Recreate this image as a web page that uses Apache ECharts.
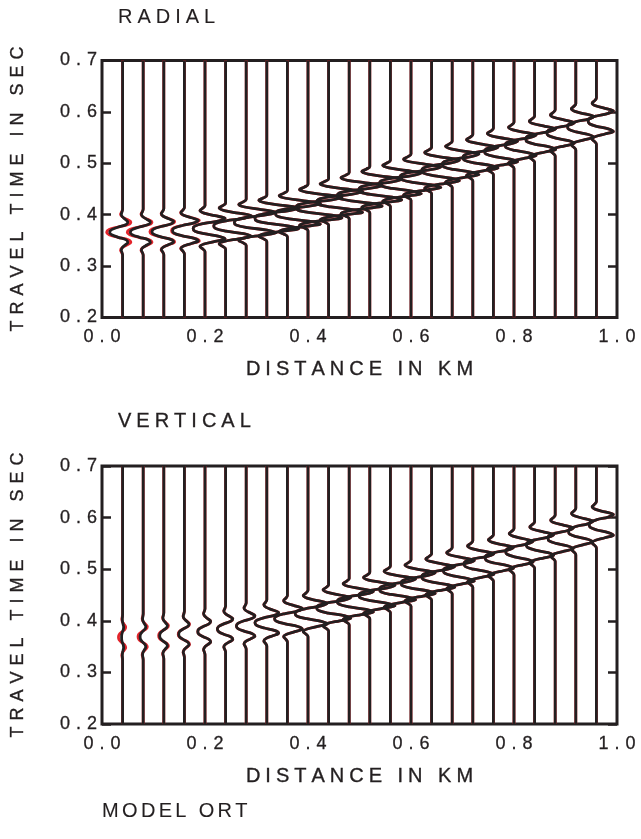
<!DOCTYPE html>
<html>
<head>
<meta charset="utf-8">
<script src="https://cdn.jsdelivr.net/npm/echarts@6/dist/echarts.min.js"></script>
<style>
  html, body { margin: 0; padding: 0; background: #fff; }
  #chart { width: 641px; height: 839px; }
</style>
</head>
<body>
<div id="chart"></div>
<script>
// trace positions (km)
var distances = [0.04, 0.08, 0.12, 0.16, 0.20, 0.24, 0.28, 0.32, 0.36, 0.40, 0.44, 0.48,
                 0.52, 0.56, 0.60, 0.64, 0.68, 0.72, 0.76, 0.80, 0.84, 0.88, 0.92, 0.96];

// arrival time of wavelet centre on each trace (s)
var radialTimes = [0.366, 0.366, 0.367, 0.369, 0.373, 0.378, 0.385, 0.393, 0.402, 0.414, 0.425, 0.437,
                   0.449, 0.461, 0.473, 0.486, 0.498, 0.511, 0.523, 0.535, 0.547, 0.559, 0.571, 0.582];
var verticalTimes = [0.368, 0.369, 0.371, 0.374, 0.379, 0.384, 0.390, 0.396, 0.404, 0.414, 0.425, 0.437,
                     0.449, 0.461, 0.473, 0.485, 0.497, 0.510, 0.522, 0.534, 0.547, 0.560, 0.573, 0.586];

// side lobe (to the right) and centre trough (to the left) amplitudes, km
var radialPeakBlack = [0.010, 0.014, 0.019, 0.027, 0.039, 0.050, 0.058, 0.062, 0.064, 0.066, 0.066, 0.064,
                       0.062, 0.060, 0.058, 0.054, 0.052, 0.049, 0.047, 0.043, 0.041, 0.037, 0.035, 0.033];
var radialTroughBlack = [0.025, 0.025, 0.023, 0.023, 0.023, 0.023, 0.023, 0.023, 0.023, 0.023, 0.023, 0.023,
                         0.021, 0.021, 0.021, 0.019, 0.019, 0.019, 0.017, 0.017, 0.017, 0.016, 0.016, 0.016];
var radialPeakRed = [0.016, 0.017, 0.021, 0.029, 0.039, 0.050, 0.058, 0.062, 0.064, 0.066, 0.066, 0.064,
                     0.062, 0.060, 0.058, 0.054, 0.052, 0.049, 0.047, 0.043, 0.041, 0.037, 0.035, 0.033];
var radialTroughRed = [0.031, 0.031, 0.027, 0.025, 0.023, 0.023, 0.023, 0.023, 0.023, 0.023, 0.023, 0.023,
                       0.021, 0.021, 0.021, 0.019, 0.019, 0.019, 0.017, 0.017, 0.017, 0.016, 0.016, 0.016];

var verticalPeakBlack = [0.002, 0.005, 0.007, 0.009, 0.011, 0.014, 0.017, 0.023, 0.029, 0.037, 0.043, 0.047,
                         0.049, 0.049, 0.047, 0.045, 0.043, 0.041, 0.039, 0.037, 0.037, 0.035, 0.033, 0.033];
var verticalTroughBlack = [0.002, 0.006, 0.008, 0.011, 0.014, 0.016, 0.019, 0.023, 0.025, 0.025, 0.023, 0.023,
                           0.021, 0.021, 0.019, 0.019, 0.017, 0.017, 0.016, 0.016, 0.016, 0.014, 0.014, 0.014];
var verticalPeakRed = [0.006, 0.008, 0.009, 0.010, 0.011, 0.014, 0.017, 0.023, 0.029, 0.037, 0.043, 0.047,
                       0.049, 0.049, 0.047, 0.045, 0.043, 0.041, 0.039, 0.037, 0.037, 0.035, 0.033, 0.033];
var verticalTroughRed = [0.008, 0.010, 0.010, 0.012, 0.014, 0.016, 0.019, 0.023, 0.025, 0.025, 0.023, 0.023,
                         0.021, 0.021, 0.019, 0.019, 0.017, 0.017, 0.016, 0.016, 0.016, 0.014, 0.014, 0.014];

// wavelet shape: time offsets (s) and normalised lobes
var waveOffsets = [-0.045, -0.04, -0.035, -0.03, -0.025, -0.02, -0.015, -0.01, -0.005, 0,
                   0.005, 0.01, 0.015, 0.02, 0.025, 0.03, 0.035, 0.04, 0.045];
var sideLobes = [0, -0.1, -0.25, -0.05, 0.5, 1, 0.7, 0.2, 0, 0,
                 0, 0.2, 0.7, 1, 0.5, -0.05, -0.25, -0.1, 0];
var centreLobe = [0, 0, 0, 0, 0, 0, 0, 0.4, 0.85, 1,
                  0.85, 0.4, 0, 0, 0, 0, 0, 0, 0];

var T_MIN = 0.2, T_MAX = 0.7;
var INK = '#231f20', RED = '#e3242b';
var FONT = '"Liberation Sans", Arial, Helvetica, sans-serif';

function spaced(s, gap) {
	return String(s).split('').join(gap);
}

// slightly heavier text, the scan looks darker than plain regular weight
function ink(size, weight) {
	return { color: INK, fontSize: size, fontFamily: FONT, fontWeight: 'normal',
		textBorderColor: INK, textBorderWidth: weight };
}

function traceData(x0, t0, peak, trough) {
	var pts = [[x0, T_MIN]];
	for (var i = 0; i < waveOffsets.length; i++) {
		pts.push([x0 + peak * sideLobes[i] - trough * centreLobe[i], t0 + waveOffsets[i]]);
	}
	pts.push([x0, T_MAX]);
	return pts;
}

function panelSeries(axis, times, peaks, troughs, color) {
	var out = [];
	for (var i = 0; i < distances.length; i++) {
		out.push({
			type: 'line',
			xAxisIndex: axis,
			yAxisIndex: axis * 2,
			data: traceData(distances[i], times[i], peaks[i], troughs[i]),
			symbol: 'none',
			smooth: 0.35,
			clip: true,
			silent: true,
			lineStyle: { color: color, width: 2.8 },
			z: color == RED ? 2 : 3
		});
	}
	return out;
}

function xAxisFor(grid) {
	var lab = ink(18, 0.3);
	lab.margin = 11;
	lab.formatter = function(v) { return spaced(v.toFixed(1), '\u2004'); };
	return {
		type: 'value', gridIndex: grid, min: 0, max: 1, interval: 0.2,
		axisLine: { show: false }, axisTick: { show: false }, splitLine: { show: false },
		axisLabel: lab,
		name: spaced('DISTANCE IN KM', '\u2005'),
		nameLocation: 'middle', nameGap: 42,
		nameTextStyle: ink(20, 0.35)
	};
}

function yAxesFor(grid) {
	var lab = ink(18, 0.3);
	lab.margin = 5;
	lab.formatter = function(v) { return spaced(v.toFixed(1), '\u2004'); };
	return [{
		type: 'value', gridIndex: grid, position: 'left', min: 0.2, max: 0.7, interval: 0.1,
		axisLine: { show: false }, splitLine: { show: false },
		axisTick: { show: true, inside: true, length: 9, lineStyle: { color: INK, width: 2.5 } },
		axisLabel: lab,
		name: spaced('TRAVEL TIME IN SEC', '\u2004'),
		nameLocation: 'middle', nameGap: 75, nameRotate: 90,
		nameTextStyle: ink(18, 0.35)
	}, {
		type: 'value', gridIndex: grid, position: 'right', min: 0.2, max: 0.7, interval: 0.1,
		axisLine: { show: false }, splitLine: { show: false }, axisLabel: { show: false },
		axisTick: { show: true, inside: true, length: 9, lineStyle: { color: INK, width: 2.5 } }
	}];
}

var option = {
	backgroundColor: '#fff',
	animation: false,
	title: [
		{ text: spaced('RADIAL', '\u2005'), left: 118, top: 7, padding: 0, textStyle: ink(20, 0.1) },
		{ text: spaced('VERTICAL', '\u2005'), left: 118, top: 411, padding: 0, textStyle: ink(20, 0.3) },
		{ text: spaced('MODEL ORT', '\u2006'), left: 102, top: 801, padding: 0, textStyle: ink(20, 0.1) }
	],
	grid: [
		{ left: 102, top: 60.5, width: 515, height: 257, show: true, borderColor: INK, borderWidth: 3 },
		{ left: 102, top: 466, width: 515, height: 258, show: true, borderColor: INK, borderWidth: 3 }
	],
	xAxis: [xAxisFor(0), xAxisFor(1)],
	yAxis: yAxesFor(0).concat(yAxesFor(1)),
	series: [].concat(
		panelSeries(0, radialTimes, radialPeakRed, radialTroughRed, RED),
		panelSeries(0, radialTimes, radialPeakBlack, radialTroughBlack, INK),
		panelSeries(1, verticalTimes, verticalPeakRed, verticalTroughRed, RED),
		panelSeries(1, verticalTimes, verticalPeakBlack, verticalTroughBlack, INK)
	)
};

var myChart = echarts.init(document.getElementById('chart'));
myChart.setOption(option);
</script>
</body>
</html>
